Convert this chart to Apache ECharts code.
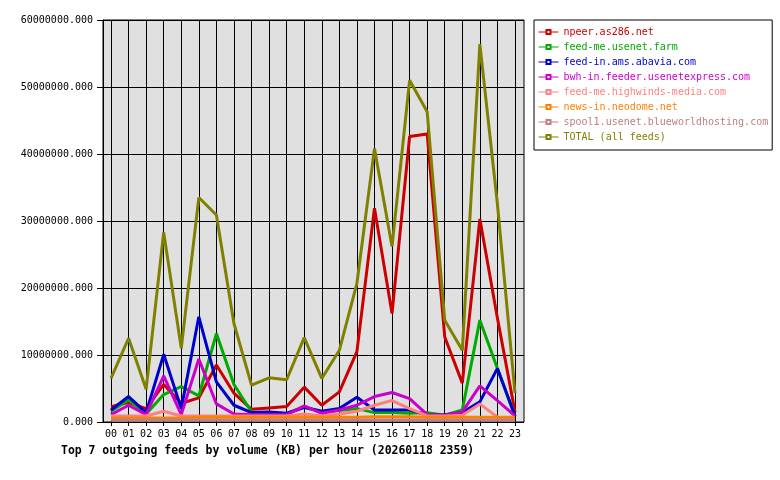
<!DOCTYPE html>
<html>
<head>
<meta charset="utf-8">
<script src="https://cdn.jsdelivr.net/npm/echarts@6/dist/echarts.min.js"></script>
<style>html,body{margin:0;padding:0;background:#fff}#c{width:780px;height:480px}</style>
</head>
<body>
<div id="c"></div>
<script>
const hours = ['00','01','02','03','04','05','06','07','08','09','10','11','12','13','14','15','16','17','18','19','20','21','22','23'];
const seriesNames = ['npeer.as286.net','feed-me.usenet.farm','feed-in.ams.abavia.com','bwh-in.feeder.usenetexpress.com','feed-me.highwinds-media.com','news-in.neodome.net','spool1.usenet.blueworldhosting.com','TOTAL (all feeds)'];
const npeer = [2.3,2.9,2.0,5.6,2.8,3.6,8.5,4.3,1.9,2.1,2.3,5.2,2.5,4.5,10.5,31.9,16.2,42.6,43.0,12.7,5.8,30.3,15.5,1.5];
const usenetFarm = [1.6,3.3,1.2,4.1,5.3,3.9,13.2,5.6,1.5,1.3,1.2,2.2,1.5,1.7,2.0,1.4,1.4,1.3,1.4,1.0,1.8,15.2,8.0,0.9];
const abavia = [1.8,3.8,1.4,10.1,2.0,15.7,6.0,2.5,1.4,1.5,1.3,2.2,1.6,2.0,3.7,1.8,1.8,1.8,1.0,1.1,1.4,3.0,8.0,0.9];
const usenetExpress = [1.1,2.5,1.1,6.9,1.1,9.4,2.7,1.2,1.1,1.1,1.1,2.4,1.3,1.8,2.5,3.8,4.4,3.5,1.1,1.0,1.5,5.4,3.2,0.9];
const highwinds = [0.9,0.9,0.9,1.6,0.9,0.9,0.9,0.9,0.9,0.9,0.9,1.2,0.9,1.2,1.6,2.5,3.2,2.0,0.9,0.9,1.0,2.7,0.7,0.5];
const neodome = [0.6,0.6,0.6,0.6,0.6,0.7,0.7,0.7,0.7,0.7,0.7,0.7,0.7,0.7,0.7,0.8,0.8,0.8,0.7,0.7,0.7,0.7,0.7,0.7];
const blueworld = [0.3,0.3,0.3,0.3,0.3,0.3,0.3,0.3,0.3,0.3,0.3,0.3,0.3,0.3,0.3,0.3,0.3,0.3,0.3,0.3,0.3,0.3,0.3,0.3];
const total = [6.5,12.5,4.9,28.3,11.0,33.5,30.9,14.7,5.5,6.6,6.3,12.6,6.5,10.7,20.7,40.8,26.2,51.0,46.3,15.2,10.7,56.4,32.5,4.3];
const yTicks = [0,10000000,20000000,30000000,40000000,50000000,60000000];
const titleText = 'Top 7 outgoing feeds by volume (KB) per hour (20260118 2359)';

const colors = ['#cc0000','#00aa00','#0000cc','#cc00cc','#ff8080','#ff8000','#c08080','#808000'];
const allData = [npeer,usenetFarm,abavia,usenetExpress,highwinds,neodome,blueworld,total];
const FONT = 'DejaVu Sans Mono';
const yMin = yTicks[0], yMax = yTicks[yTicks.length-1], yStep = yTicks[1]-yTicks[0];

const chart = echarts.init(document.getElementById('c'), null, {renderer:'canvas'});
chart.setOption({
  animation: false,
  backgroundColor: '#ffffff',
  title: {
    text: titleText, left: 61, top: 446, padding: 0,
    textStyle: {fontFamily: FONT, fontSize: 11.45, fontWeight: 'bold', color: '#000'}
  },
  legend: {
    orient: 'vertical', left: 534, top: 20,
    padding: [7, 4, 8, 4],
    borderColor: '#000', borderWidth: 1,
    itemWidth: 20, itemHeight: 5, itemGap: 5,
    lineStyle: {width: 1},
    textStyle: {fontFamily: FONT, fontSize: 10, lineHeight: 10},
    data: seriesNames.map((n,i) => ({name: n, textStyle: {color: colors[i]}}))
  },
  grid: [
    {left: 103, right: 256, top: 20, bottom: 58, z: -1,
     show: true, backgroundColor: '#e0e0e0', borderColor: '#000', borderWidth: 1},
    {left: 111, right: 265, top: 20, bottom: 58, show: false}
  ],
  xAxis: [{
    gridIndex: 0, type: 'category', data: hours, show: false
  }, {
    gridIndex: 1, type: 'category', data: hours, boundaryGap: false,
    axisLine: {show: false},
    axisTick: {show: true, interval: 0, length: 4, lineStyle: {color: '#000', width: 1}},
    axisLabel: {fontFamily: FONT, fontSize: 10, color: '#000', margin: 7, interval: 0},
    splitLine: {show: true, interval: 0, lineStyle: {color: '#000', width: 1}}
  }],
  yAxis: [{
    gridIndex: 0, type: 'value', min: yMin, max: yMax, interval: yStep,
    axisLine: {show: true, lineStyle: {color: '#000', width: 1}},
    axisTick: {show: true, length: 6, lineStyle: {color: '#000'}},
    axisLabel: {fontFamily: FONT, fontSize: 10, color: '#000', margin: 10,
      formatter: v => v.toFixed(3)},
    splitLine: {show: true, lineStyle: {color: '#000', width: 1}}
  }, {
    gridIndex: 1, type: 'value', min: yMin, max: yMax, interval: yStep, show: false,
    splitLine: {show: false}
  }],
  series: seriesNames.map((n,i) => ({
    name: n, type: 'line', xAxisIndex: 1, yAxisIndex: 1,
    data: allData[i].map(v => v * 1e6),
    symbol: 'emptyRect', symbolSize: 4, showSymbol: false,
    color: colors[i],
    lineStyle: {width: 3, color: colors[i]},
    emphasis: {disabled: true}
  }))
});
</script>
</body>
</html>
